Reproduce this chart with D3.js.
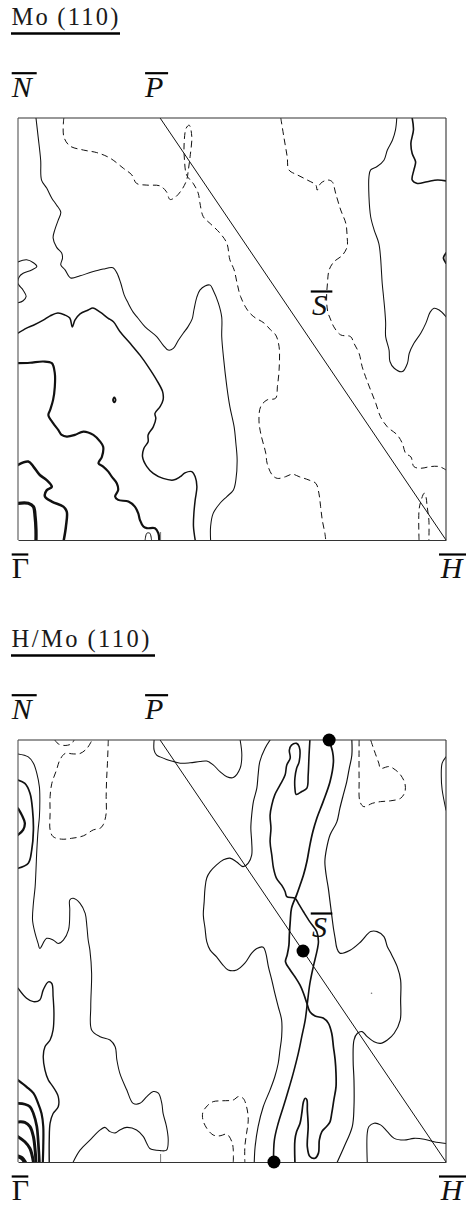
<!DOCTYPE html>
<html>
<head>
<meta charset="utf-8">
<script src="https://cdn.jsdelivr.net/npm/d3@7"></script>
<style>
  body { margin: 0; background: #fff; }
  svg { display: block; }
</style>
</head>
<body>
<svg id="chart" width="468" height="1207"></svg>
<script>
// Surface Brillouin zone quadrant, k in units of Γ-H (x) and Γ-N (y).
// Each contour is a list of [kx, ky] points.

const symLabels = ["N", "P", "Γ", "H", "S"];
const symPoints = [[0, 1], [0.332, 1], [0, 0], [1, 0], [0.666, 0.5]];
const panelTitles = ["Mo\u2009(110)", "H/Mo\u2009(110)"];

// ---- Mo(110) ----
const mo_a = [[0.042,1],[0.047,0.956],[0.053,0.900],[0.055,0.853],[0.067,0.834],[0.079,0.810],[0.090,0.794],[0.100,0.777],[0.094,0.758],[0.086,0.735],[0.082,0.716],[0.090,0.694],[0.102,0.680],[0.104,0.668],[0.100,0.652],[0.110,0.640],[0.123,0.621],[0.145,0.626],[0.172,0.635],[0.199,0.642],[0.222,0.645],[0.231,0.633],[0.240,0.609],[0.248,0.581],[0.257,0.562],[0.269,0.540],[0.280,0.526],[0.297,0.505],[0.324,0.482],[0.339,0.462],[0.351,0.450],[0.363,0.454],[0.374,0.472],[0.386,0.490],[0.397,0.505],[0.407,0.524],[0.411,0.545],[0.418,0.576],[0.425,0.592],[0.437,0.602],[0.449,0.604],[0.456,0.592],[0.468,0.562],[0.476,0.528],[0.476,0.482],[0.480,0.434],[0.488,0.363],[0.495,0.316],[0.505,0.268],[0.509,0.230],[0.512,0.190],[0.509,0.142],[0.503,0.118],[0.488,0.103],[0.472,0.087],[0.456,0.063],[0.450,0.032],[0.450,0]];
const mo_b = [[0,0.659],[0.020,0.664],[0.036,0.657],[0.044,0.648],[0.032,0.640],[0.012,0.632],[0.003,0.624],[0,0.608],[0.012,0.592],[0.019,0.577],[0.012,0.567],[0,0.562]];
const mo_c = [[0.107,1],[0.107,0.956],[0.121,0.934],[0.153,0.924],[0.184,0.918],[0.215,0.905],[0.246,0.881],[0.266,0.865],[0.277,0.845],[0.301,0.841],[0.332,0.839],[0.347,0.825],[0.355,0.807],[0.367,0.812],[0.382,0.829],[0.394,0.853],[0.398,0.877],[0.402,0.908],[0.406,0.956],[0.400,0.983],[0.393,0.976],[0.388,0.936],[0.389,0.900],[0.394,0.865],[0.410,0.844],[0.421,0.822],[0.425,0.799],[0.433,0.766],[0.449,0.750],[0.472,0.727],[0.488,0.703],[0.495,0.664],[0.505,0.640],[0.512,0.608],[0.520,0.577],[0.536,0.545],[0.551,0.529],[0.575,0.514],[0.590,0.498],[0.602,0.486],[0.610,0.458],[0.610,0.403],[0.606,0.363],[0.602,0.336],[0.582,0.332],[0.567,0.316],[0.563,0.284],[0.567,0.253],[0.579,0.205],[0.582,0.182],[0.594,0.154],[0.606,0.146],[0.625,0.150],[0.641,0.156],[0.657,0.150],[0.680,0.142],[0.696,0.134],[0.703,0.111],[0.707,0.079],[0.711,0.047],[0.717,0.016],[0.719,0]];
const mo_e = [[0.614,1],[0.621,0.956],[0.629,0.908],[0.633,0.877],[0.653,0.865],[0.676,0.853],[0.696,0.841],[0.699,0.829],[0.707,0.845],[0.723,0.853],[0.734,0.849],[0.742,0.822],[0.754,0.782],[0.766,0.750],[0.769,0.719],[0.769,0.695],[0.758,0.675],[0.738,0.659],[0.727,0.640],[0.723,0.608],[0.721,0.569],[0.724,0.540],[0.731,0.521],[0.738,0.505],[0.754,0.486],[0.777,0.482],[0.785,0.466],[0.797,0.442],[0.804,0.411],[0.812,0.387],[0.824,0.355],[0.836,0.324],[0.847,0.292],[0.863,0.268],[0.886,0.249],[0.898,0.229],[0.906,0.205],[0.918,0.197],[0.925,0.174],[0.941,0.170],[0.964,0.174],[0.984,0.174],[1,0.166]];
const mo_f = [[0.937,0],[0.937,0.071],[0.941,0.091],[0.949,0.111],[0.953,0.103],[0.956,0.079],[0.960,0.047],[0.960,0]];
const mo_g = [[0.885,1],[0.882,0.972],[0.875,0.948],[0.863,0.924],[0.855,0.900],[0.839,0.885],[0.824,0.877],[0.820,0.861],[0.820,0.814],[0.824,0.766],[0.832,0.735],[0.843,0.703],[0.847,0.671],[0.849,0.640],[0.851,0.608],[0.854,0.577],[0.857,0.545],[0.859,0.514],[0.859,0.482],[0.867,0.450],[0.869,0.423],[0.879,0.407],[0.898,0.399],[0.910,0.419],[0.914,0.442],[0.925,0.466],[0.941,0.490],[0.953,0.514],[0.963,0.540],[0.972,0.549],[0.984,0.545],[1,0.529]];
const mo_h = [[0.921,1],[0.924,0.972],[0.918,0.940],[0.921,0.916],[0.929,0.896],[0.925,0.877],[0.921,0.853],[0.933,0.845],[0.956,0.849],[0.980,0.853],[1,0.851]];
const mo_edge = [[1,0.680],[0.994,0.668],[1,0.656]];
const mo_l = [[0,0.490],[0.020,0.502],[0.036,0.509],[0.059,0.521],[0.075,0.531],[0.093,0.538],[0.110,0.533],[0.121,0.526],[0.127,0.505],[0.133,0.521],[0.145,0.536],[0.164,0.545],[0.175,0.550],[0.192,0.540],[0.210,0.526],[0.223,0.517],[0.238,0.494],[0.262,0.466],[0.285,0.438],[0.304,0.411],[0.324,0.379],[0.338,0.351],[0.339,0.332],[0.332,0.316],[0.320,0.300],[0.322,0.288],[0.316,0.268],[0.304,0.249],[0.304,0.233],[0.294,0.217],[0.291,0.197],[0.301,0.174],[0.316,0.158],[0.339,0.146],[0.363,0.142],[0.379,0.150],[0.390,0.159],[0.406,0.162],[0.414,0.150],[0.418,0.126],[0.414,0.095],[0.411,0.064],[0.410,0.032],[0.414,0]];
const mo_i = [[0,0.419],[0.028,0.420],[0.059,0.423],[0.079,0.419],[0.086,0.395],[0.086,0.363],[0.082,0.332],[0.075,0.308],[0.071,0.296],[0.082,0.277],[0.094,0.261],[0.102,0.249],[0.114,0.245],[0.133,0.249],[0.153,0.257],[0.176,0.249],[0.192,0.233],[0.199,0.221],[0.196,0.197],[0.188,0.182],[0.199,0.174],[0.211,0.162],[0.219,0.150],[0.231,0.134],[0.234,0.118],[0.227,0.103],[0.234,0.095],[0.258,0.091],[0.273,0.079],[0.281,0.063],[0.285,0.047],[0.293,0.032],[0.301,0.028],[0.320,0.028],[0.328,0.016],[0.330,0]];
const mo_bump = [[0.297,0],[0.301,0.016],[0.308,0.016],[0.312,0]];
const mo_island = [[0.222,0.332],[0.225,0.338],[0.228,0.332],[0.225,0.326]];
const mo_j = [[0,0.178],[0.024,0.186],[0.036,0.174],[0.051,0.154],[0.067,0.142],[0.079,0.126],[0.067,0.118],[0.063,0.103],[0.079,0.091],[0.106,0.079],[0.114,0.067],[0.112,0.032],[0.107,0]];
const mo_k = [[0,0.087],[0.024,0.087],[0.036,0.079],[0.040,0.055],[0.042,0.024],[0.042,0]];

// ---- H/Mo(110) ----
const hmo_a = [[0,0.967],[0.024,0.960],[0.036,0.945],[0.044,0.921],[0.050,0.889],[0.051,0.858],[0.050,0.818],[0.047,0.787],[0.044,0.739],[0.042,0.692],[0.040,0.652],[0.036,0.613],[0.034,0.573],[0.040,0.542],[0.047,0.518],[0.051,0.506],[0.067,0.530],[0.082,0.526],[0.094,0.518],[0.106,0.526],[0.118,0.550],[0.121,0.597],[0.121,0.621],[0.129,0.625],[0.145,0.613],[0.157,0.589],[0.161,0.558],[0.164,0.526],[0.168,0.502],[0.172,0.447],[0.170,0.368],[0.172,0.313],[0.192,0.297],[0.215,0.289],[0.227,0.273],[0.231,0.242],[0.238,0.210],[0.254,0.171],[0.269,0.139],[0.285,0.139],[0.301,0.155],[0.316,0.167],[0.328,0.163],[0.336,0.139],[0.339,0.115],[0.347,0.084],[0.351,0.052],[0.347,0.028],[0.332,0.027],[0.308,0.032],[0.301,0.044],[0.293,0.060],[0.277,0.076],[0.254,0.082],[0.238,0.076],[0.227,0.069],[0.215,0.072],[0.203,0.082],[0.192,0.076],[0.168,0.052],[0.145,0.028],[0.129,0]];
const hmo_b = [[0,0.412],[0.020,0.388],[0.036,0.380],[0.051,0.384],[0.059,0.408],[0.071,0.427],[0.079,0.423],[0.082,0.392],[0.084,0.352],[0.082,0.313],[0.075,0.289],[0.063,0.273],[0.059,0.250],[0.063,0.218],[0.071,0.194],[0.082,0.178],[0.094,0.155],[0.094,0.131],[0.082,0.115],[0.075,0.092],[0.073,0.052],[0.073,0]];
const hmo_c = [[0,0.905],[0.016,0.897],[0.028,0.874],[0.034,0.834],[0.036,0.787],[0.032,0.739],[0.024,0.708],[0,0.696]];
const hmo_d = [[0,0.838],[0.009,0.822],[0.016,0.803],[0.012,0.787],[0,0.775]];
const hmo_g1 = [[0,0.194],[0.020,0.178],[0.036,0.163],[0.047,0.139],[0.055,0.115],[0.059,0.084],[0.059,0.036],[0.058,0]];
const hmo_g2 = [[0,0.139],[0.016,0.137],[0.028,0.131],[0.036,0.115],[0.044,0.084],[0.047,0.052],[0.050,0]];
const hmo_g3 = [[0,0.095],[0.016,0.094],[0.028,0.084],[0.036,0.060],[0.040,0.028],[0.042,0]];
const hmo_g4 = [[0,0.060],[0.016,0.048],[0.028,0.032],[0.036,0]];
const hmo_g5 = [[0,0.013],[0.009,0.009],[0.016,0]];
const hmo_e = [[0.211,1],[0.209,0.945],[0.207,0.905],[0.206,0.866],[0.206,0.826],[0.199,0.799],[0.192,0.791],[0.176,0.787],[0.153,0.773],[0.125,0.767],[0.102,0.765],[0.082,0.771],[0.075,0.787],[0.075,0.826],[0.075,0.866],[0.079,0.897],[0.090,0.929],[0.098,0.953],[0.110,0.968],[0.129,0.967],[0.145,0.968],[0.161,0.980],[0.172,0.998]];
const hmo_f = [[0.086,1],[0.094,0.991],[0.110,0.987],[0.125,0.991],[0.131,1]];
const hmo_p = [[0.318,1],[0.318,0.976],[0.324,0.964],[0.332,0.960],[0.347,0.954],[0.363,0.949],[0.379,0.945],[0.402,0.946],[0.425,0.949],[0.441,0.950],[0.456,0.941],[0.472,0.925],[0.488,0.913],[0.503,0.911],[0.519,0.933],[0.523,0.964],[0.519,1]];
const hmo_r = [[0.589,1],[0.577,0.980],[0.565,0.949],[0.561,0.917],[0.558,0.886],[0.550,0.854],[0.546,0.822],[0.544,0.791],[0.546,0.759],[0.546,0.727],[0.538,0.708],[0.526,0.700],[0.511,0.711],[0.495,0.720],[0.480,0.716],[0.464,0.704],[0.449,0.688],[0.441,0.673],[0.437,0.649],[0.435,0.617],[0.433,0.585],[0.437,0.554],[0.441,0.522],[0.449,0.502],[0.464,0.486],[0.477,0.469],[0.491,0.455],[0.511,0.455],[0.530,0.471],[0.546,0.495],[0.558,0.506],[0.573,0.509],[0.579,0.495],[0.585,0.463],[0.593,0.431],[0.600,0.400],[0.608,0.368],[0.616,0.336],[0.616,0.297],[0.612,0.265],[0.608,0.234],[0.600,0.202],[0.589,0.171],[0.573,0.131],[0.561,0.084],[0.554,0.036],[0.552,0]];
const hmo_s = [[0.682,1],[0.680,0.964],[0.678,0.917],[0.675,0.886],[0.663,0.878],[0.650,0.871],[0.647,0.886],[0.647,0.910],[0.651,0.933],[0.657,0.949],[0.657,0.984],[0.651,0.992],[0.639,0.988],[0.634,0.976],[0.636,0.957],[0.628,0.941],[0.624,0.917],[0.612,0.893],[0.600,0.870],[0.593,0.846],[0.589,0.822],[0.591,0.791],[0.589,0.759],[0.593,0.727],[0.597,0.696],[0.604,0.672],[0.616,0.656],[0.624,0.641],[0.628,0.629],[0.647,0.625],[0.655,0.613],[0.667,0.593],[0.682,0.569],[0.698,0.546],[0.702,0.522],[0.699,0.502],[0.690,0.463],[0.682,0.423],[0.676,0.376],[0.671,0.336],[0.663,0.297],[0.655,0.258],[0.643,0.210],[0.632,0.171],[0.620,0.131],[0.608,0.092],[0.599,0.052],[0.597,0]];
const hmo_t = [[0.727,0.998],[0.735,0.972],[0.737,0.949],[0.729,0.901],[0.713,0.854],[0.698,0.814],[0.689,0.783],[0.682,0.751],[0.675,0.712],[0.667,0.680],[0.659,0.656],[0.651,0.633],[0.639,0.601],[0.636,0.569],[0.634,0.538],[0.633,0.514],[0.629,0.491],[0.625,0.474],[0.636,0.455],[0.647,0.439],[0.659,0.419],[0.667,0.400],[0.675,0.376],[0.682,0.356],[0.694,0.346],[0.713,0.341],[0.725,0.329],[0.733,0.305],[0.737,0.273],[0.741,0.242],[0.743,0.210],[0.743,0.178],[0.738,0.147],[0.733,0.115],[0.729,0.095],[0.721,0.084],[0.710,0.072],[0.704,0.052],[0.702,0.021],[0.694,0.009],[0.682,0.013],[0.676,0.036],[0.678,0.084],[0.676,0.123],[0.675,0.147],[0.671,0.151],[0.667,0.143],[0.663,0.115],[0.659,0.092],[0.651,0.072],[0.647,0.052],[0.647,0]];
const hmo_u = [[0.780,1],[0.780,0.964],[0.774,0.933],[0.768,0.901],[0.760,0.870],[0.752,0.838],[0.745,0.806],[0.729,0.775],[0.721,0.743],[0.717,0.712],[0.720,0.680],[0.725,0.649],[0.729,0.617],[0.733,0.585],[0.737,0.554],[0.741,0.530],[0.745,0.507],[0.752,0.495],[0.776,0.502],[0.801,0.522],[0.824,0.546],[0.839,0.546],[0.855,0.534],[0.863,0.510],[0.871,0.495],[0.886,0.463],[0.894,0.431],[0.894,0.384],[0.893,0.336],[0.879,0.305],[0.863,0.289],[0.847,0.281],[0.832,0.285],[0.816,0.297],[0.804,0.309],[0.793,0.305],[0.785,0.289],[0.783,0.242],[0.785,0.194],[0.785,0.131],[0.781,0.084],[0.762,0.036],[0.746,0]];
const hmo_v = [[0.797,1],[0.797,0.905],[0.799,0.854],[0.808,0.842],[0.828,0.850],[0.847,0.854],[0.871,0.856],[0.894,0.862],[0.904,0.877],[0.904,0.897],[0.894,0.917],[0.882,0.929],[0.867,0.937],[0.847,0.933],[0.843,0.945],[0.832,0.976],[0.824,1]];
const hmo_w = [[1,0.960],[0.991,0.945],[0.989,0.913],[0.991,0.882],[1,0.834]];
const hmo_x = [[0.816,0],[0.816,0.068],[0.820,0.084],[0.832,0.092],[0.847,0.088],[0.863,0.072],[0.879,0.056],[0.902,0.052],[0.925,0.056],[0.949,0.054],[0.972,0.048],[1,0.044]];
const hmo_y = [[0.503,0],[0.503,0.028],[0.500,0.047],[0.488,0.066],[0.472,0.062],[0.456,0.064],[0.441,0.080],[0.432,0.100],[0.432,0.118],[0.442,0.133],[0.456,0.143],[0.476,0.145],[0.503,0.147],[0.515,0.155],[0.526,0.151],[0.534,0.131],[0.538,0.100],[0.534,0.068],[0.530,0.036],[0.530,0]];
const hmo_speck = [[0.826,0.400]];
const hmo_dots = [[0.727,1],[0.666,0.5],[0.598,0]];

// ---- drawing ----
const svg = d3.select("#chart");
const frameLeft = 18, frameRight = 446, frameH = 422;

const panels = [
  {
    title: panelTitles[0], top: 118, titleWidth: 107, ruleEnd: 120,
    contours: [
      { pts: mo_a, w: 1.05 }, { pts: mo_b, w: 1.05 },
      { pts: mo_c, w: 1.0, dash: true }, { pts: mo_e, w: 1.0, dash: true },
      { pts: mo_f, w: 1.0, dash: true },
      { pts: mo_g, w: 1.05 }, { pts: mo_h, w: 1.6 }, { pts: mo_edge, w: 1.8 },
      { pts: mo_l, w: 1.5 }, { pts: mo_i, w: 2.2 }, { pts: mo_bump, w: 1.0 },
      { pts: mo_island, w: 1.8, closed: true },
      { pts: mo_j, w: 2.5 }, { pts: mo_k, w: 3.3 }
    ],
    dots: [], specks: []
  },
  {
    title: panelTitles[1], top: 740, titleWidth: 138, ruleEnd: 155,
    contours: [
      { pts: hmo_a, w: 1.05 }, { pts: hmo_b, w: 1.4 },
      { pts: hmo_c, w: 1.7 }, { pts: hmo_d, w: 2.3 },
      { pts: hmo_g1, w: 2.2 }, { pts: hmo_g2, w: 2.7 }, { pts: hmo_g3, w: 3.0 },
      { pts: hmo_g4, w: 3.0 }, { pts: hmo_g5, w: 4.0 },
      { pts: hmo_e, w: 1.0, dash: true }, { pts: hmo_f, w: 1.0, dash: true },
      { pts: hmo_p, w: 1.05 }, { pts: hmo_r, w: 1.1 },
      { pts: hmo_s, w: 1.6 }, { pts: hmo_t, w: 1.7 }, { pts: hmo_u, w: 1.15 },
      { pts: hmo_v, w: 1.0, dash: true }, { pts: hmo_w, w: 1.05 },
      { pts: hmo_x, w: 1.05 }, { pts: hmo_y, w: 1.0, dash: true }
    ],
    dots: hmo_dots, specks: hmo_speck
  }
];

// label placement around each symmetry point: text offset and overline width
const labelStyle = {
  "N": { dx: -6.3, dy: -21.3, italic: true,  ow: 25, ox: 0 },
  "P": { dx: -15,  dy: -21.3, italic: true,  ow: 23, ox: 0 },
  "Γ": { dx: -6.3, dy: 38,    italic: false, ow: 16.6, ox: 0 },
  "H": { dx: -5.3, dy: 38,    italic: true,  ow: 27, ox: -1.7 },
  "S": { dx: 9,    dy: -14,   italic: true,  ow: 21.6, ox: -1.3 }
};

panels.forEach((p, pi) => {
  const bottom = p.top + frameH;
  const x = d3.scaleLinear().domain([0, 1]).range([frameLeft, frameRight]);
  const y = d3.scaleLinear().domain([0, 1]).range([bottom, p.top]);
  const g = svg.append("g");

  // title with rule underneath
  const titleBase = p.top - 93;
  g.append("text")
    .attr("x", 11.5).attr("y", titleBase)
    .attr("font-family", "'Liberation Serif', 'Times New Roman', serif")
    .attr("font-size", 24.5)
    .attr("textLength", p.titleWidth)
    .attr("lengthAdjust", "spacing")
    .attr("fill", "#1a1a1a")
    .text(p.title);
  g.append("line")
    .attr("x1", 11).attr("x2", p.ruleEnd)
    .attr("y1", titleBase + 8.5).attr("y2", titleBase + 8.5)
    .attr("stroke", "#000").attr("stroke-width", 2.3);

  // clip region = zone quadrant
  const clipId = "clip" + pi;
  g.append("clipPath").attr("id", clipId)
    .append("rect")
    .attr("x", frameLeft).attr("y", p.top)
    .attr("width", frameRight - frameLeft).attr("height", frameH);

  const line = d3.line()
    .x(d => x(d[0])).y(d => y(d[1]))
    .curve(d3.curveCatmullRom.alpha(0.5));
  const loop = d3.line()
    .x(d => x(d[0])).y(d => y(d[1]))
    .curve(d3.curveCatmullRomClosed.alpha(0.5));

  const cg = g.append("g").attr("clip-path", `url(#${clipId})`);
  cg.selectAll("path.contour")
    .data(p.contours)
    .join("path")
    .attr("class", "contour")
    .attr("d", c => (c.closed ? loop : line)(c.pts))
    .attr("fill", "none")
    .attr("stroke", "#111")
    .attr("stroke-width", c => c.w)
    .attr("stroke-linejoin", "round")
    .attr("stroke-linecap", c => c.dash ? "butt" : "round")
    .attr("stroke-dasharray", c => c.dash ? "6.5,4" : null);

  cg.selectAll("circle.speck")
    .data(p.specks)
    .join("circle")
    .attr("class", "speck")
    .attr("cx", d => x(d[0])).attr("cy", d => y(d[1]))
    .attr("r", 0.8).attr("fill", "#777");

  // zone boundary P–H
  const kP = symPoints[1], kH = symPoints[3];
  g.append("line")
    .attr("x1", x(kP[0])).attr("y1", y(kP[1]))
    .attr("x2", x(kH[0])).attr("y2", y(kH[1]))
    .attr("stroke", "#111").attr("stroke-width", 1);

  // frame: bottom axis carries the small tick below P
  const axis = d3.axisBottom(x)
    .tickValues([kP[0]])
    .tickSizeInner(-8).tickSizeOuter(0)
    .tickFormat("");
  const ag = g.append("g").attr("transform", `translate(0,${bottom})`).call(axis);
  ag.select(".domain").attr("stroke", "#333").attr("stroke-width", 1.1);
  ag.selectAll(".tick line").attr("stroke", "#777").attr("stroke-width", 1);

  g.append("line").attr("x1", frameLeft).attr("x2", frameRight)
    .attr("y1", p.top).attr("y2", p.top).attr("stroke", "#333").attr("stroke-width", 1.1);
  g.append("line").attr("x1", frameLeft).attr("x2", frameLeft)
    .attr("y1", p.top).attr("y2", bottom).attr("stroke", "#555").attr("stroke-width", 1.1);
  g.append("line").attr("x1", frameRight).attr("x2", frameRight)
    .attr("y1", p.top).attr("y2", bottom).attr("stroke", "#333").attr("stroke-width", 1.1);

  // Fermi-surface crossing points
  g.selectAll("circle.dot")
    .data(p.dots)
    .join("circle")
    .attr("class", "dot")
    .attr("cx", d => x(d[0])).attr("cy", d => y(d[1]))
    .attr("r", 6.5).attr("fill", "#000");

  // symmetry point labels with overbars
  symLabels.forEach((lab, i) => {
    const st = labelStyle[lab];
    const px = x(symPoints[i][0]), py = y(symPoints[i][1]);
    const tx = px + st.dx, ty = py + st.dy;
    g.append("text")
      .attr("x", tx).attr("y", ty)
      .attr("font-family", "'Liberation Serif', 'Times New Roman', serif")
      .attr("font-style", st.italic ? "italic" : "normal")
      .attr("font-size", 30)
      .attr("fill", "#111")
      .text(lab);
    g.append("line")
      .attr("x1", tx + st.ox).attr("x2", tx + st.ox + st.ow)
      .attr("y1", ty - 23.5).attr("y2", ty - 23.5)
      .attr("stroke", "#000").attr("stroke-width", 2.2);
  });
});
</script>
</body>
</html>
